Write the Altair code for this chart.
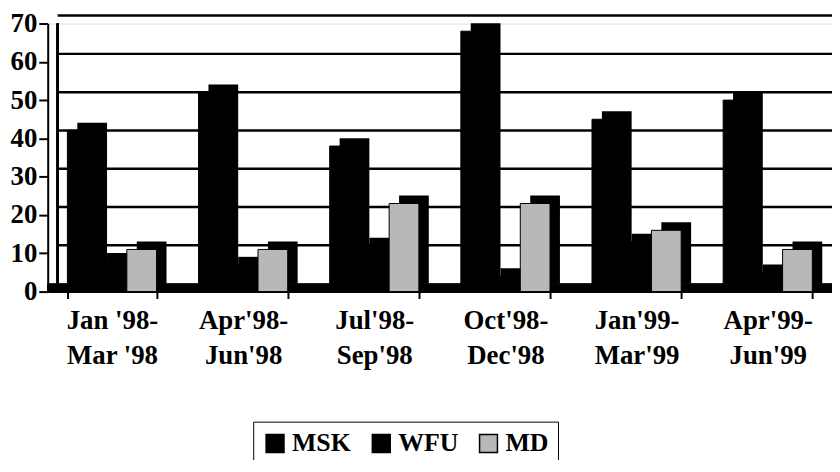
import altair as alt
import pandas as pd

categories = ["Jan '98-|Mar '98", "Apr'98-|Jun'98", "Jul'98-|Sep'98",
              "Oct'98-|Dec'98", "Jan'99-|Mar'99", "Apr'99-|Jun'99"]
series = ["MSK", "WFU", "MD"]
msk = [42, 52, 38, 68, 45, 50]
wfu = [8, 7, 12, 4, 13, 5]
md = [11, 11, 23, 23, 16, 11]
grid_vals = [10, 20, 30, 40, 50, 60, 70]
y_ticks = [0, 10, 20, 30, 40, 50, 60, 70]

rows = []
for i, c in enumerate(categories):
    for s, vals in zip(series, [msk, wfu, md]):
        rows.append({"cat": c, "series": s, "value": vals[i]})
df = pd.DataFrame(rows)
grid_df = pd.DataFrame({"g": grid_vals})

W, H = 790, 270
FONT = "Liberation Serif"
DX, DY = 10, -8
PI, PO = 0.32, 0.15
STEP = W / (len(categories) - PI + 2 * PO)
BW = STEP * (1 - PI)

yscale = alt.Scale(domain=[0, 70], nice=False)
xscale = alt.Scale(paddingInner=PI, paddingOuter=PO)

yaxis = alt.Axis(values=y_ticks, grid=False, title=None,
                 labelFont=FONT, labelFontSize=27, labelFontWeight="bold",
                 labelColor="black", labelPadding=2, tickSize=9, tickWidth=2,
                 tickColor="black", domainColor="black", domainWidth=2)

grid = alt.Chart(grid_df).mark_rule(color="black", strokeWidth=2.5, yOffset=DY).encode(
    y=alt.Y("g:Q", scale=yscale, axis=yaxis, title=None),
    x=alt.value(DX), x2=alt.value(W),
)
backwall = alt.Chart(grid_df).mark_rule(color="black", strokeWidth=2, yOffset=DY).encode(
    y=alt.datum(0, scale=yscale, axis=yaxis), y2=alt.datum(70), x=alt.value(DX),
)
floor = alt.Chart(grid_df).mark_rule(color="black", strokeWidth=8, yOffset=-4).encode(
    y=alt.datum(0, scale=yscale, axis=yaxis), x=alt.value(0), x2=alt.value(W),
)

xaxis = alt.Axis(labelExpr="split(datum.label, '|')", labelAngle=0, title=None,
                 labelFont=FONT, labelFontSize=27, labelFontWeight="bold",
                 labelColor="black", labelLineHeight=35, labelPadding=9,
                 labelBaseline="top",
                 tickBand="extent", tickSize=7, tickWidth=2, tickColor="black",
                 domainColor="black", domainWidth=2)

def bars(offset_range):
    return alt.Chart(df).encode(
        x=alt.X("cat:N", sort=categories, scale=xscale, title=None, axis=xaxis),
        xOffset=alt.XOffset("series:N", sort=series,
                            scale=alt.Scale(range=offset_range)),
        y=alt.Y("value:Q", scale=yscale, title=None, axis=yaxis),
    )

shadow = bars([DX, BW + DX]).mark_bar(color="black", yOffset=DY)
front = bars([0, BW]).mark_bar(stroke="black", strokeWidth=1).encode(
    color=alt.Color("series:N", sort=series,
                    scale=alt.Scale(domain=series, range=["#000000", "#000000", "#b8b8b8"]),
                    legend=alt.Legend(title=None, orient="none", direction="horizontal",
                                      legendX=207, legendY=401,
                                      labelFont=FONT, labelFontSize=26, labelFontWeight="bold",
                                      labelColor="black", symbolType="square", symbolSize=324,
                                      symbolStrokeColor="black", symbolStrokeWidth=1.5,
                                      strokeColor="black", padding=9, columnPadding=17,
                                      labelOffset=4, symbolOpacity=1)),
)

chart = alt.layer(grid, backwall, floor, shadow, front).resolve_scale(
    xOffset="independent"
).properties(
    width=W, height=H,
    autosize=alt.AutoSizeParams(type="none"),
    padding={"left": 40, "top": 14, "right": 0, "bottom": 168},
).configure_view(stroke=None).configure(background="white")

chart.save("out.html", embed_options={"renderer": "svg", "actions": False})
